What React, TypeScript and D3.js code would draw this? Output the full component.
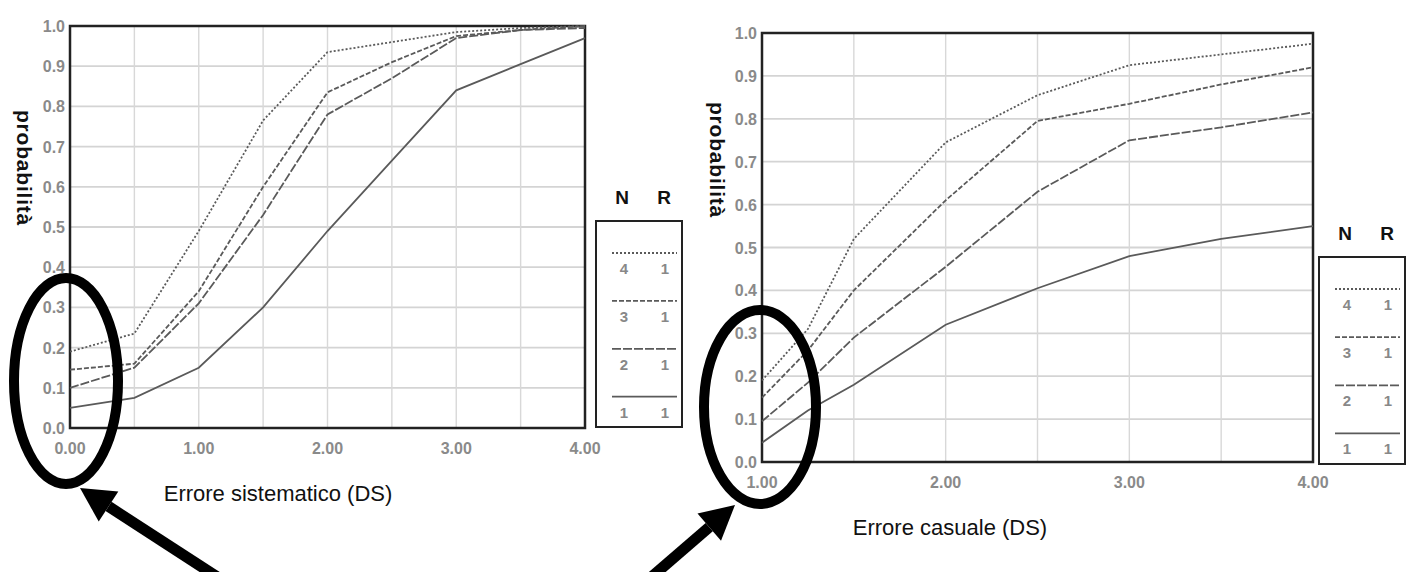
import React from "react";
import * as d3 from "d3";

// curve labels (N, R)
const seriesN = [4, 3, 2, 1];
const seriesR = [1, 1, 1, 1];
const dashes = ["2,2", "5,2", "9,2", ""];

// left chart: systematic error
const sysX = [0, 0.5, 1, 1.5, 2, 2.5, 3, 3.5, 4];
const sysN4 = [0.19, 0.235, 0.49, 0.765, 0.935, 0.96, 0.985, 0.995, 1.0];
const sysN3 = [0.145, 0.16, 0.34, 0.6, 0.835, 0.91, 0.975, 0.99, 1.0];
const sysN2 = [0.1, 0.15, 0.31, 0.53, 0.78, 0.87, 0.97, 0.99, 0.995];
const sysN1 = [0.05, 0.075, 0.15, 0.3, 0.49, 0.665, 0.84, 0.905, 0.97];
const sysTicks = ["0.00", "1.00", "2.00", "3.00", "4.00"];

// right chart: random error
const casX = [1, 1.25, 1.5, 2, 2.5, 3, 3.5, 4];
const casN4 = [0.19, 0.31, 0.52, 0.745, 0.855, 0.925, 0.95, 0.975];
const casN3 = [0.15, 0.26, 0.4, 0.61, 0.795, 0.835, 0.88, 0.92];
const casN2 = [0.095, 0.185, 0.29, 0.455, 0.63, 0.75, 0.78, 0.815];
const casN1 = [0.045, 0.12, 0.18, 0.32, 0.405, 0.48, 0.52, 0.55];
const casTicks = ["1.00", "2.00", "3.00", "4.00"];

const yTicks = d3.range(0, 11).map((i) => i / 10);

const font = "'Liberation Sans', Arial, sans-serif";

type PanelProps = {
  xs: number[];
  series: number[][];
  xDomain: [number, number];
  xRange: [number, number];
  yRange: [number, number];
  xTicks: string[];
  title: string;
  titleX: number;
  titleY: number;
  yTitleX: number;
  yTitleY: number;
  legendX: number;
  legendY: number;
  legendH: number;
};

function Panel(p: PanelProps) {
  const x = d3.scaleLinear().domain(p.xDomain).range(p.xRange);
  const y = d3.scaleLinear().domain([0, 1]).range(p.yRange);
  const line = d3
    .line<number>()
    .x((_, i) => x(p.xs[i]))
    .y((d) => y(d));
  const grid = d3.range(p.xDomain[0], p.xDomain[1] + 0.01, 0.5);
  const rowH = p.legendH / 4.3;

  return (
    <g>
      {yTicks.map((t) => (
        <line key={"h" + t} x1={x.range()[0]} x2={x.range()[1]} y1={y(t)} y2={y(t)} stroke="#d4d4d4" strokeWidth={1.8} />
      ))}
      {grid.map((t) => (
        <line key={"v" + t} x1={x(t)} x2={x(t)} y1={y(0)} y2={y(1)} stroke="#d8d8d8" strokeWidth={1.4} />
      ))}
      <rect
        x={x.range()[0]}
        y={y(1)}
        width={x.range()[1] - x.range()[0]}
        height={y(0) - y(1)}
        fill="none"
        stroke="#222"
        strokeWidth={2.5}
      />
      {p.series.map((s, i) => (
        <path key={i} d={line(s) || ""} fill="none" stroke="#5a5a5a" strokeWidth={1.8} strokeDasharray={dashes[i]} />
      ))}
      {yTicks.map((t) => (
        <text key={"yl" + t} x={x.range()[0] - 5} y={y(t) + 6} textAnchor="end" fontSize={16} fontWeight="bold" fill="#8a8a8a" fontFamily={font}>
          {t.toFixed(1)}
        </text>
      ))}
      {p.xTicks.map((t) => (
        <text key={"xl" + t} x={x(+t)} y={y(0) + 26} textAnchor="middle" fontSize={16} fontWeight="bold" fill="#8a8a8a" fontFamily={font}>
          {t}
        </text>
      ))}
      <text x={p.titleX} y={p.titleY} textAnchor="middle" fontSize={22} fill="#111" fontFamily={font}>
        {p.title}
      </text>
      <text
        transform={`translate(${p.yTitleX},${p.yTitleY}) rotate(90)`}
        textAnchor="middle"
        fontSize={21}
        fontWeight="bold"
        letterSpacing={0.8}
        fill="#111"
        fontFamily={font}
      >
        probabilità
      </text>
      <text x={p.legendX + 26} y={p.legendY - 17} textAnchor="middle" fontSize={19} fontWeight="bold" fill="#111" fontFamily={font}>
        N
      </text>
      <text x={p.legendX + 68} y={p.legendY - 17} textAnchor="middle" fontSize={19} fontWeight="bold" fill="#111" fontFamily={font}>
        R
      </text>
      <rect x={p.legendX} y={p.legendY} width={86} height={p.legendH} fill="none" stroke="#222" strokeWidth={2} />
      {seriesN.map((n, i) => {
        const ly = p.legendY + 32 + i * rowH;
        return (
          <g key={n}>
            <line x1={p.legendX + 16} x2={p.legendX + 81} y1={ly} y2={ly} stroke="#5a5a5a" strokeWidth={1.8} strokeDasharray={dashes[i]} />
            <text x={p.legendX + 28} y={ly + 21} textAnchor="middle" fontSize={15} fontWeight="bold" fill="#888" fontFamily={font}>
              {n}
            </text>
            <text x={p.legendX + 69} y={ly + 21} textAnchor="middle" fontSize={15} fontWeight="bold" fill="#888" fontFamily={font}>
              {seriesR[i]}
            </text>
          </g>
        );
      })}
    </g>
  );
}

function Arrow({ x1, y1, x2, y2 }: { x1: number; y1: number; x2: number; y2: number }) {
  const a = Math.atan2(y2 - y1, x2 - x1);
  const len = 34;
  const w = 18;
  const bx = x2 - len * Math.cos(a);
  const by = y2 - len * Math.sin(a);
  const px = -Math.sin(a) * w;
  const py = Math.cos(a) * w;
  return (
    <g>
      <line x1={x1} y1={y1} x2={bx} y2={by} stroke="#000" strokeWidth={11} />
      <polygon points={`${x2},${y2} ${bx + px},${by + py} ${bx - px},${by - py}`} fill="#000" />
    </g>
  );
}

export default function App() {
  return (
    <div style={{ position: "absolute", left: 0, top: 0 }}>
      <svg width={1407} height={572} style={{ display: "block", background: "#fff" }}>
        <Panel
          xs={sysX}
          series={[sysN4, sysN3, sysN2, sysN1]}
          xDomain={[0, 4]}
          xRange={[70, 585]}
          yRange={[428, 26]}
          xTicks={sysTicks}
          title="Errore sistematico (DS)"
          titleX={278}
          titleY={501}
          yTitleX={17}
          yTitleY={168}
          legendX={596}
          legendY={221}
          legendH={206}
        />
        <Panel
          xs={casX}
          series={[casN4, casN3, casN2, casN1]}
          xDomain={[1, 4]}
          xRange={[762, 1313]}
          yRange={[462, 33]}
          xTicks={casTicks}
          title="Errore casuale (DS)"
          titleX={950}
          titleY={535}
          yTitleX={710}
          yTitleY={160}
          legendX={1319}
          legendY={257}
          legendH={207}
        />
        <ellipse cx={66} cy={381} rx={52} ry={103} fill="none" stroke="#000" strokeWidth={10} />
        <ellipse cx={760} cy={407} rx={56} ry={97} fill="none" stroke="#000" strokeWidth={10} />
        <Arrow x1={222} y1={580} x2={80} y2={488} />
        <Arrow x1={648} y1={580} x2={735} y2={505} />
      </svg>
    </div>
  );
}
